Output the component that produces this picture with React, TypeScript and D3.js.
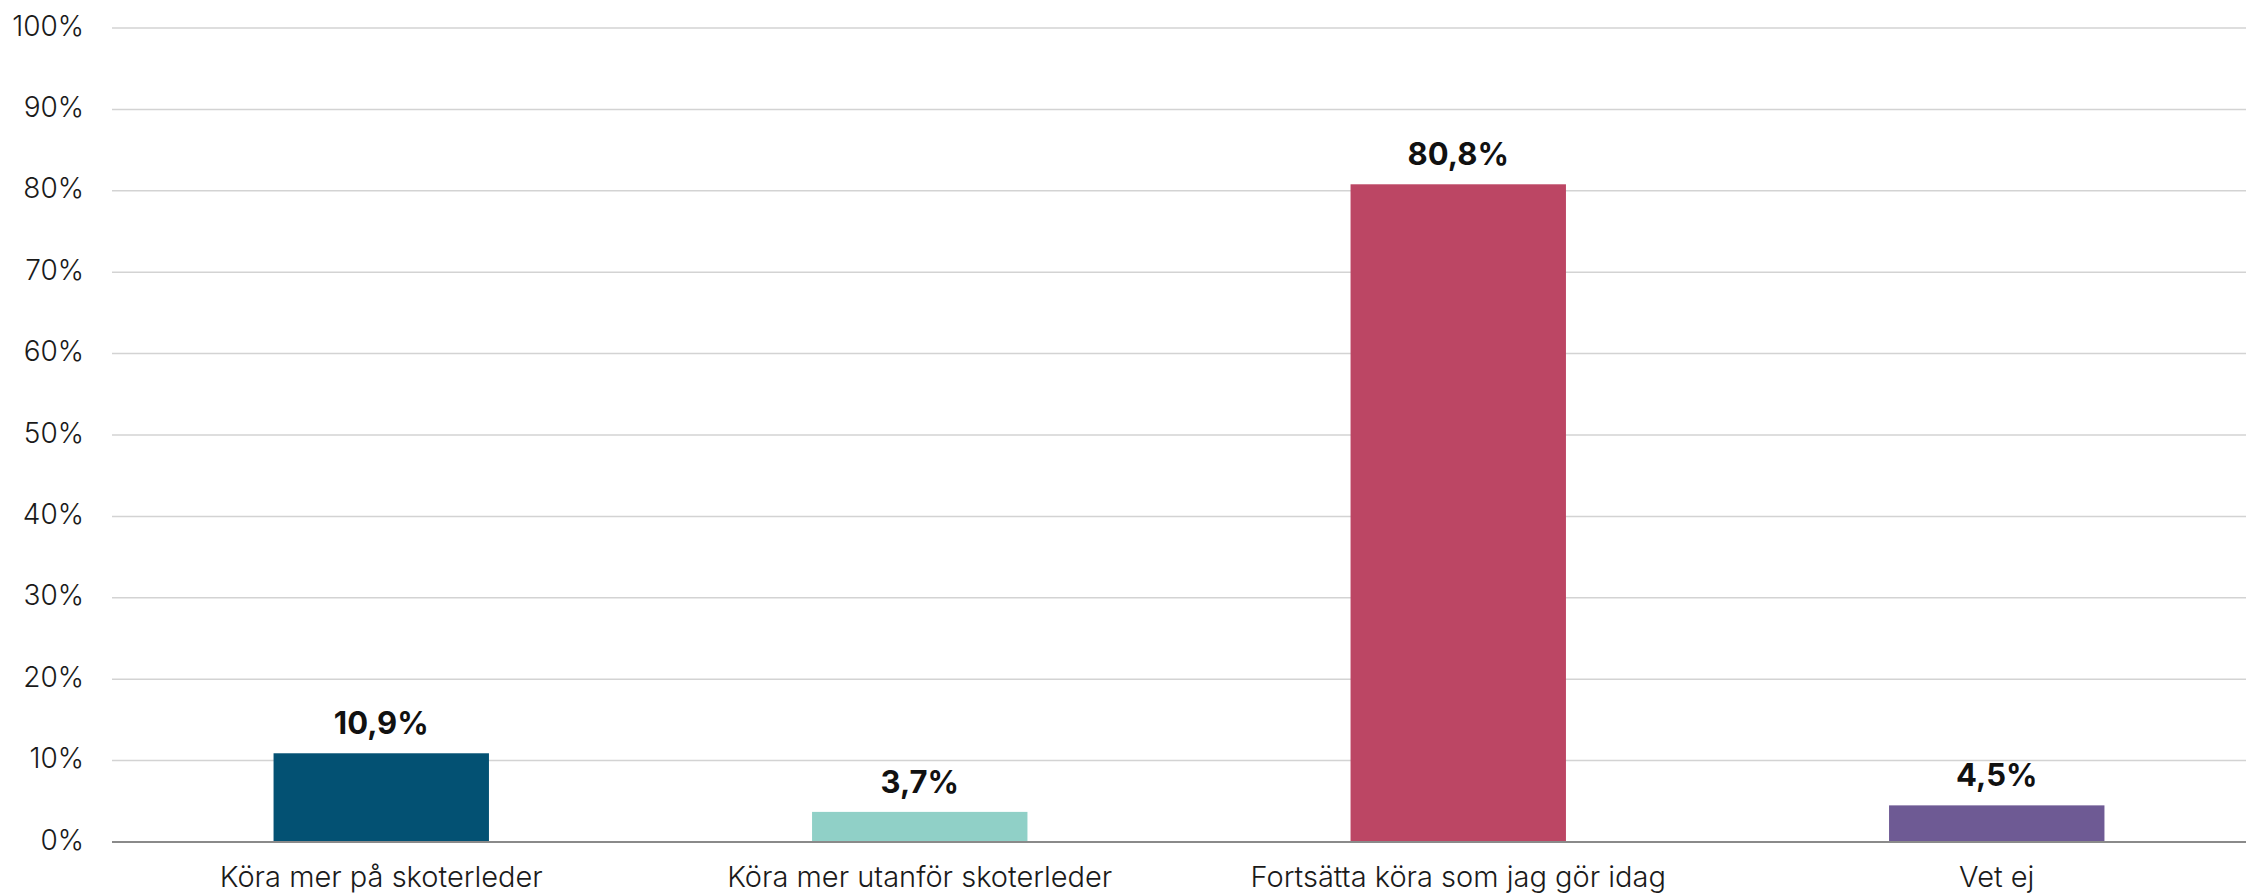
import React from "react";
import * as d3 from "d3";

const categories = [
  "Köra mer på skoterleder",
  "Köra mer utanför skoterleder",
  "Fortsätta köra som jag gör idag",
  "Vet ej",
];
const values = [10.9, 3.7, 80.8, 4.5];
const valueLabels = ["10,9%", "3,7%", "80,8%", "4,5%"];
const colors = ["#035173", "#90D0C7", "#BC4664", "#6E5A94"];
const yTicks = [0, 10, 20, 30, 40, 50, 60, 70, 80, 90, 100];

const W = 2246;
const H = 893;
const FONT = "Inter, 'Noto Sans', sans-serif";

export default function App() {
  const x = d3
    .scaleBand<string>()
    .domain(categories)
    .range([112, 2266])
    .paddingInner(0.6)
    .paddingOuter(0.3);
  const y = d3.scaleLinear().domain([0, 100]).range([842, 28]);

  return (
    <svg
      width={W}
      height={H}
      style={{ position: "absolute", left: 0, top: 0, background: "#fff" }}
      fontFamily={FONT}
    >
      {yTicks.map((t) => (
        <g key={t}>
          {t !== 0 && (
            <line x1={112} x2={W} y1={y(t)} y2={y(t)} stroke="#d3d3d3" strokeWidth={1.5} />
          )}
          <text
            x={84}
            y={y(t) + 7.5}
            textAnchor="end"
            fontSize={28}
            fontWeight={300}
            fill="#1a1a1a"
          >
            {`${t}%`}
          </text>
        </g>
      ))}
      {categories.map((c, i) => (
        <g key={c}>
          <rect
            x={x(c)}
            y={y(values[i])}
            width={x.bandwidth()}
            height={y(0) - y(values[i])}
            fill={colors[i]}
          />
          <text
            x={(x(c) as number) + x.bandwidth() / 2}
            y={y(values[i]) - 19}
            textAnchor="middle"
            fontSize={31}
            fontWeight={700}
            fill="#111"
          >
            {valueLabels[i]}
          </text>
          <text
            x={(x(c) as number) + x.bandwidth() / 2}
            y={887}
            textAnchor="middle"
            fontSize={29}
            fontWeight={300}
            fill="#1a1a1a"
          >
            {c}
          </text>
        </g>
      ))}
      <line x1={112} x2={W} y1={y(0)} y2={y(0)} stroke="#8a8a8a" strokeWidth={2} />
    </svg>
  );
}
